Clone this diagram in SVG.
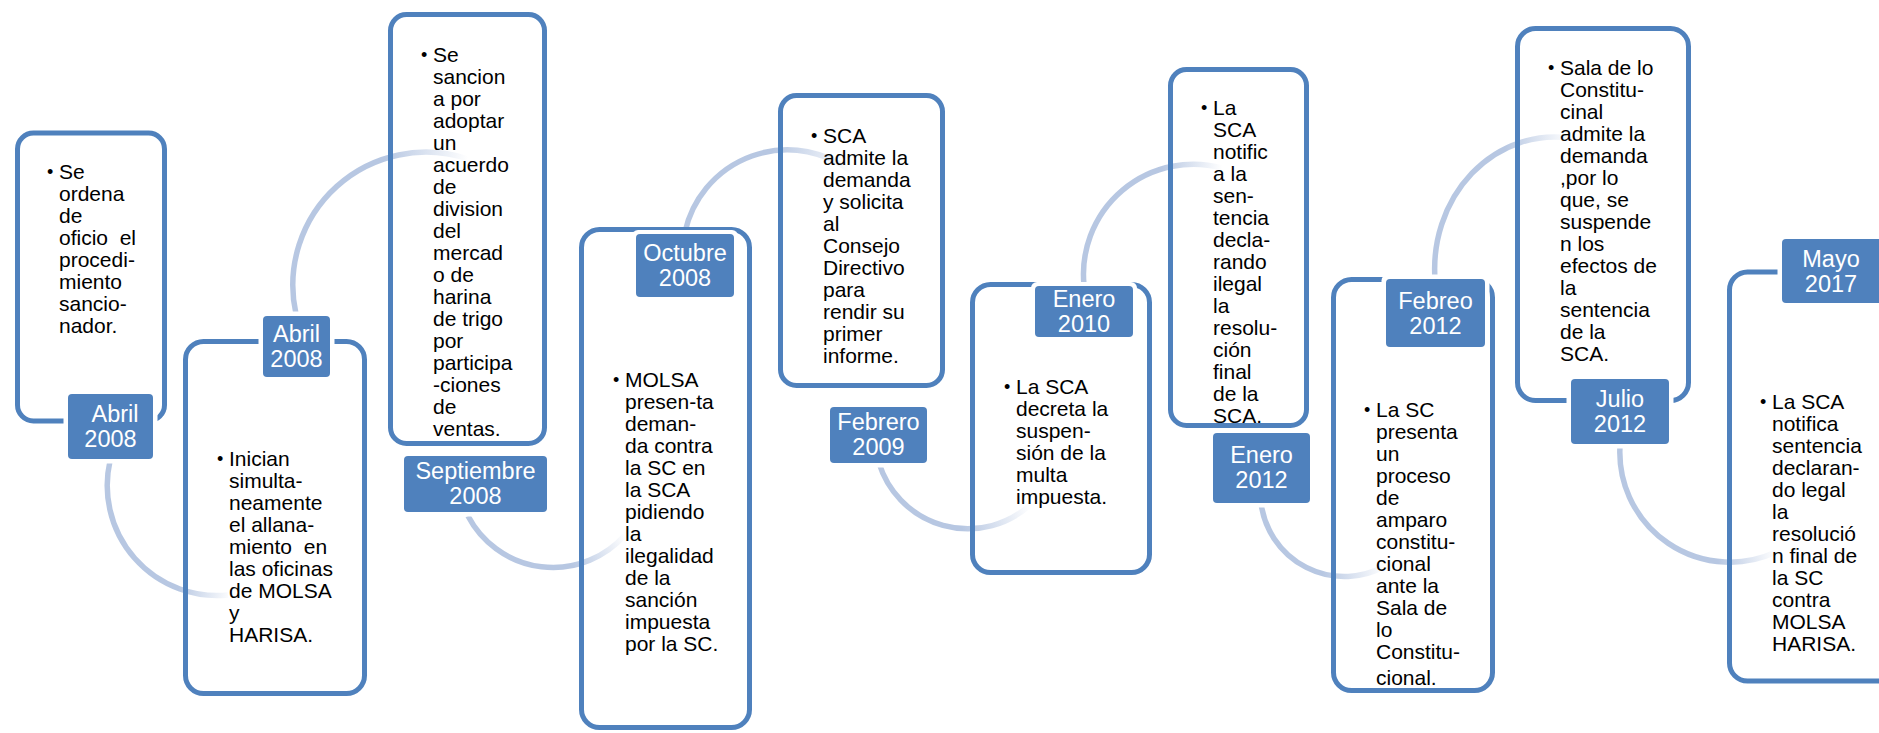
<svg xmlns="http://www.w3.org/2000/svg" width="1879" height="733" viewBox="0 0 1879 733">
<style>
.box{fill:none;stroke:#4F81BD;stroke-width:5}
.halo{fill:#FFFFFF}
.lbl{fill:#4F81BD}
.lt{font-family:"Liberation Sans",Arial,sans-serif;font-size:23.5px;fill:#FFFFFF;text-anchor:middle}
.bt{font-family:"Liberation Sans",Arial,sans-serif;font-size:21px;fill:#000000}
.bul{font-family:"Liberation Sans",Arial,sans-serif;font-size:18px;fill:#000000}
.arc{fill:none;stroke-width:5.5}
</style>
<defs>
<linearGradient id="g1" gradientUnits="userSpaceOnUse" x1="178" y1="590" x2="232" y2="596"><stop offset="0" stop-color="#B7C7E2"/><stop offset="1" stop-color="#B7C7E2" stop-opacity="0"/></linearGradient>
<linearGradient id="g2" gradientUnits="userSpaceOnUse" x1="385" y1="155" x2="468" y2="159"><stop offset="0" stop-color="#B7C7E2"/><stop offset="1" stop-color="#B7C7E2" stop-opacity="0"/></linearGradient>
<linearGradient id="g3" gradientUnits="userSpaceOnUse" x1="572" y1="566" x2="625" y2="535"><stop offset="0" stop-color="#B7C7E2"/><stop offset="1" stop-color="#B7C7E2" stop-opacity="0"/></linearGradient>
<linearGradient id="g4" gradientUnits="userSpaceOnUse" x1="772" y1="150" x2="852" y2="172"><stop offset="0" stop-color="#B7C7E2"/><stop offset="1" stop-color="#B7C7E2" stop-opacity="0"/></linearGradient>
<linearGradient id="g5" gradientUnits="userSpaceOnUse" x1="962" y1="529" x2="1030" y2="505"><stop offset="0" stop-color="#B7C7E2"/><stop offset="1" stop-color="#B7C7E2" stop-opacity="0"/></linearGradient>
<linearGradient id="g6" gradientUnits="userSpaceOnUse" x1="1162" y1="166" x2="1222" y2="168"><stop offset="0" stop-color="#B7C7E2"/><stop offset="1" stop-color="#B7C7E2" stop-opacity="0"/></linearGradient>
<linearGradient id="g7" gradientUnits="userSpaceOnUse" x1="1322" y1="573" x2="1385" y2="566"><stop offset="0" stop-color="#B7C7E2"/><stop offset="1" stop-color="#B7C7E2" stop-opacity="0"/></linearGradient>
<linearGradient id="g8" gradientUnits="userSpaceOnUse" x1="1505" y1="145" x2="1570" y2="138"><stop offset="0" stop-color="#B7C7E2"/><stop offset="1" stop-color="#B7C7E2" stop-opacity="0"/></linearGradient>
<linearGradient id="g9" gradientUnits="userSpaceOnUse" x1="1718" y1="562" x2="1776" y2="552"><stop offset="0" stop-color="#B7C7E2"/><stop offset="1" stop-color="#B7C7E2" stop-opacity="0"/></linearGradient>
</defs>
<rect x="0" y="0" width="1879" height="733" fill="#FFFFFF"/>

<g id="connectors">
<path class="arc" stroke="url(#g1)" d="M110,461 A110,110 0 0 0 228,595"/>
<path class="arc" stroke="url(#g2)" d="M296,314 A133,133 0 0 1 468,159"/>
<path class="arc" stroke="url(#g3)" d="M468,516 A96,96 0 0 0 625,535"/>
<path class="arc" stroke="url(#g4)" d="M685,232 A105,105 0 0 1 852,172"/>
<path class="arc" stroke="url(#g5)" d="M879,463 A93,93 0 0 0 1030,505"/>
<path class="arc" stroke="url(#g6)" d="M1084,285 A110,110 0 0 1 1222,168"/>
<path class="arc" stroke="url(#g7)" d="M1261,503 A84,84 0 0 0 1385,566"/>
<path class="arc" stroke="url(#g8)" d="M1435,279 A120,132 0 0 1 1570,138"/>
<path class="arc" stroke="url(#g9)" d="M1620,446 A110,110 0 0 0 1776,552"/>
</g>

<g id="node1">
<rect class="box" x="17.5" y="133" width="147" height="288" rx="16"/>
<rect class="halo" x="63.5" y="389.5" width="94" height="74" rx="6"/>
<rect class="lbl" x="68" y="394" width="85" height="65" rx="4"/>
<text class="lt"><tspan x="115" y="421.5">Abril</tspan><tspan x="110.5" y="446.5">2008</tspan></text>
<text class="bul" x="47" y="178">•</text>
<text class="bt" xml:space="preserve"><tspan x="59" y="179">Se</tspan><tspan x="59" y="201">ordena</tspan><tspan x="59" y="223">de</tspan><tspan x="59" y="245">oficio  el</tspan><tspan x="59" y="267">procedi-</tspan><tspan x="59" y="289">miento</tspan><tspan x="59" y="311">sancio-</tspan><tspan x="59" y="333">nador.</tspan></text>
</g>

<g id="node2">
<rect class="box" x="185.5" y="341.5" width="179" height="352" rx="18"/>
<rect class="halo" x="258.5" y="311.5" width="76" height="70" rx="6"/>
<rect class="lbl" x="263" y="316" width="67" height="61" rx="4"/>
<text class="lt"><tspan x="296.5" y="341.5">Abril</tspan><tspan x="296.5" y="366.5">2008</tspan></text>
<text class="bul" x="217" y="465">•</text>
<text class="bt" xml:space="preserve"><tspan x="229" y="466">Inician</tspan><tspan x="229" y="488">simulta-</tspan><tspan x="229" y="510">neamente</tspan><tspan x="229" y="532">el allana-</tspan><tspan x="229" y="554">miento  en</tspan><tspan x="229" y="576">las oficinas</tspan><tspan x="229" y="598">de MOLSA</tspan><tspan x="229" y="620">y</tspan><tspan x="229" y="642">HARISA.</tspan></text>
</g>

<g id="node3">
<rect class="box" x="390.5" y="14.5" width="154" height="429" rx="16"/>
<rect class="halo" x="399.5" y="451.5" width="152" height="65" rx="6"/>
<rect class="lbl" x="404" y="456" width="143" height="56" rx="4"/>
<text class="lt"><tspan x="475.5" y="479">Septiembre</tspan><tspan x="475.5" y="504">2008</tspan></text>
<text class="bul" x="421" y="61">•</text>
<text class="bt" xml:space="preserve"><tspan x="433" y="62">Se</tspan><tspan x="433" y="84">sancion</tspan><tspan x="433" y="106">a por</tspan><tspan x="433" y="128">adoptar</tspan><tspan x="433" y="150">un</tspan><tspan x="433" y="172">acuerdo</tspan><tspan x="433" y="194">de</tspan><tspan x="433" y="216">division</tspan><tspan x="433" y="238">del</tspan><tspan x="433" y="260">mercad</tspan><tspan x="433" y="282">o de</tspan><tspan x="433" y="304">harina</tspan><tspan x="433" y="326">de trigo</tspan><tspan x="433" y="348">por</tspan><tspan x="433" y="370">participa</tspan><tspan x="433" y="392">-ciones</tspan><tspan x="433" y="414">de</tspan><tspan x="433" y="436">ventas.</tspan></text>
</g>

<g id="node4">
<rect class="box" x="581.5" y="229.5" width="168" height="498" rx="18"/>
<rect class="halo" x="632" y="230" width="106" height="71" rx="6"/>
<rect class="lbl" x="636" y="234" width="98" height="63" rx="4"/>
<text class="lt"><tspan x="685" y="260.5">Octubre</tspan><tspan x="685" y="285.5">2008</tspan></text>
<text class="bul" x="613" y="386">•</text>
<text class="bt" xml:space="preserve"><tspan x="625" y="387">MOLSA</tspan><tspan x="625" y="409">presen-ta</tspan><tspan x="625" y="431">deman-</tspan><tspan x="625" y="453">da contra</tspan><tspan x="625" y="475">la SC en</tspan><tspan x="625" y="497">la SCA</tspan><tspan x="625" y="519">pidiendo</tspan><tspan x="625" y="541">la</tspan><tspan x="625" y="563">ilegalidad</tspan><tspan x="625" y="585">de la</tspan><tspan x="625" y="607">sanción</tspan><tspan x="625" y="629">impuesta</tspan><tspan x="625" y="651">por la SC.</tspan></text>
</g>

<g id="node5">
<rect class="box" x="780.5" y="95.5" width="162" height="290" rx="16"/>
<rect class="halo" x="825.5" y="402.5" width="106" height="65" rx="6"/>
<rect class="lbl" x="830" y="407" width="97" height="56" rx="4"/>
<text class="lt"><tspan x="878.5" y="430">Febrero</tspan><tspan x="878.5" y="455">2009</tspan></text>
<text class="bul" x="811" y="142">•</text>
<text class="bt" xml:space="preserve"><tspan x="823" y="143">SCA</tspan><tspan x="823" y="165">admite la</tspan><tspan x="823" y="187">demanda</tspan><tspan x="823" y="209">y solicita</tspan><tspan x="823" y="231">al</tspan><tspan x="823" y="253">Consejo</tspan><tspan x="823" y="275">Directivo</tspan><tspan x="823" y="297">para</tspan><tspan x="823" y="319">rendir su</tspan><tspan x="823" y="341">primer</tspan><tspan x="823" y="363">informe.</tspan></text>
</g>

<g id="node6">
<rect class="box" x="972.5" y="284.5" width="177" height="288" rx="18"/>
<rect class="halo" x="1031" y="282" width="106" height="59" rx="6"/>
<rect class="lbl" x="1035" y="286" width="98" height="51" rx="4"/>
<text class="lt"><tspan x="1084" y="306.5">Enero</tspan><tspan x="1084" y="331.5">2010</tspan></text>
<text class="bul" x="1004" y="393">•</text>
<text class="bt" xml:space="preserve"><tspan x="1016" y="394">La SCA</tspan><tspan x="1016" y="416">decreta la</tspan><tspan x="1016" y="438">suspen-</tspan><tspan x="1016" y="460">sión de la</tspan><tspan x="1016" y="482">multa</tspan><tspan x="1016" y="504">impuesta.</tspan></text>
</g>

<g id="node7">
<rect class="box" x="1170.5" y="69.5" width="136" height="356" rx="16"/>
<rect class="halo" x="1208.5" y="428.5" width="106" height="79" rx="6"/>
<rect class="lbl" x="1213" y="433" width="97" height="70" rx="4"/>
<text class="lt"><tspan x="1261.5" y="463">Enero</tspan><tspan x="1261.5" y="488">2012</tspan></text>
<text class="bul" x="1201" y="114">•</text>
<text class="bt" xml:space="preserve"><tspan x="1213" y="115">La</tspan><tspan x="1213" y="137">SCA</tspan><tspan x="1213" y="159">notific</tspan><tspan x="1213" y="181">a la</tspan><tspan x="1213" y="203">sen-</tspan><tspan x="1213" y="225">tencia</tspan><tspan x="1213" y="247">decla-</tspan><tspan x="1213" y="269">rando</tspan><tspan x="1213" y="291">ilegal</tspan><tspan x="1213" y="313">la</tspan><tspan x="1213" y="335">resolu-</tspan><tspan x="1213" y="357">ción</tspan><tspan x="1213" y="379">final</tspan><tspan x="1213" y="401">de la</tspan><tspan x="1213" y="423">SCA.</tspan></text>
</g>

<g id="node8">
<rect class="box" x="1333.5" y="279.5" width="159" height="411" rx="18"/>
<rect class="halo" x="1381.5" y="274.5" width="108" height="77" rx="6"/>
<rect class="lbl" x="1386" y="279" width="99" height="68" rx="4"/>
<text class="lt"><tspan x="1435.5" y="309">Febreo</tspan><tspan x="1435.5" y="334">2012</tspan></text>
<text class="bul" x="1364" y="416">•</text>
<text class="bt" xml:space="preserve"><tspan x="1376" y="417">La SC</tspan><tspan x="1376" y="439">presenta</tspan><tspan x="1376" y="461">un</tspan><tspan x="1376" y="483">proceso</tspan><tspan x="1376" y="505">de</tspan><tspan x="1376" y="527">amparo</tspan><tspan x="1376" y="549">constitu-</tspan><tspan x="1376" y="571">cional</tspan><tspan x="1376" y="593">ante la</tspan><tspan x="1376" y="615">Sala de</tspan><tspan x="1376" y="637">lo</tspan><tspan x="1376" y="659">Constitu-</tspan><tspan x="1376" y="685">cional.</tspan></text>
</g>

<g id="node9">
<rect class="box" x="1517.5" y="28.5" width="171" height="372" rx="18"/>
<rect class="halo" x="1566.5" y="374.5" width="107" height="74" rx="6"/>
<rect class="lbl" x="1571" y="379" width="98" height="65" rx="4"/>
<text class="lt"><tspan x="1620" y="406.5">Julio</tspan><tspan x="1620" y="431.5">2012</tspan></text>
<text class="bul" x="1548" y="74">•</text>
<text class="bt" xml:space="preserve"><tspan x="1560" y="75">Sala de lo</tspan><tspan x="1560" y="97">Constitu-</tspan><tspan x="1560" y="119">cinal</tspan><tspan x="1560" y="141">admite la</tspan><tspan x="1560" y="163">demanda</tspan><tspan x="1560" y="185">,por lo</tspan><tspan x="1560" y="207">que, se</tspan><tspan x="1560" y="229">suspende</tspan><tspan x="1560" y="251">n los</tspan><tspan x="1560" y="273">efectos de</tspan><tspan x="1560" y="295">la</tspan><tspan x="1560" y="317">sentencia</tspan><tspan x="1560" y="339">de la</tspan><tspan x="1560" y="361">SCA.</tspan></text>
</g>

<g id="node10">
<rect class="box" x="1729.5" y="272" width="200" height="409" rx="18"/>
<rect class="halo" x="1777.5" y="234.5" width="110" height="73" rx="6"/>
<rect class="lbl" x="1782" y="239" width="100" height="64" rx="4"/>
<text class="lt"><tspan x="1831" y="266.5">Mayo</tspan><tspan x="1831" y="291.5">2017</tspan></text>
<text class="bul" x="1760" y="408">•</text>
<text class="bt" xml:space="preserve"><tspan x="1772" y="409">La SCA</tspan><tspan x="1772" y="431">notifica</tspan><tspan x="1772" y="453">sentencia</tspan><tspan x="1772" y="475">declaran-</tspan><tspan x="1772" y="497">do legal</tspan><tspan x="1772" y="519">la</tspan><tspan x="1772" y="541">resolució</tspan><tspan x="1772" y="563">n final de</tspan><tspan x="1772" y="585">la SC</tspan><tspan x="1772" y="607">contra</tspan><tspan x="1772" y="629">MOLSA</tspan><tspan x="1772" y="651">HARISA.</tspan></text>
</g>
</svg>
